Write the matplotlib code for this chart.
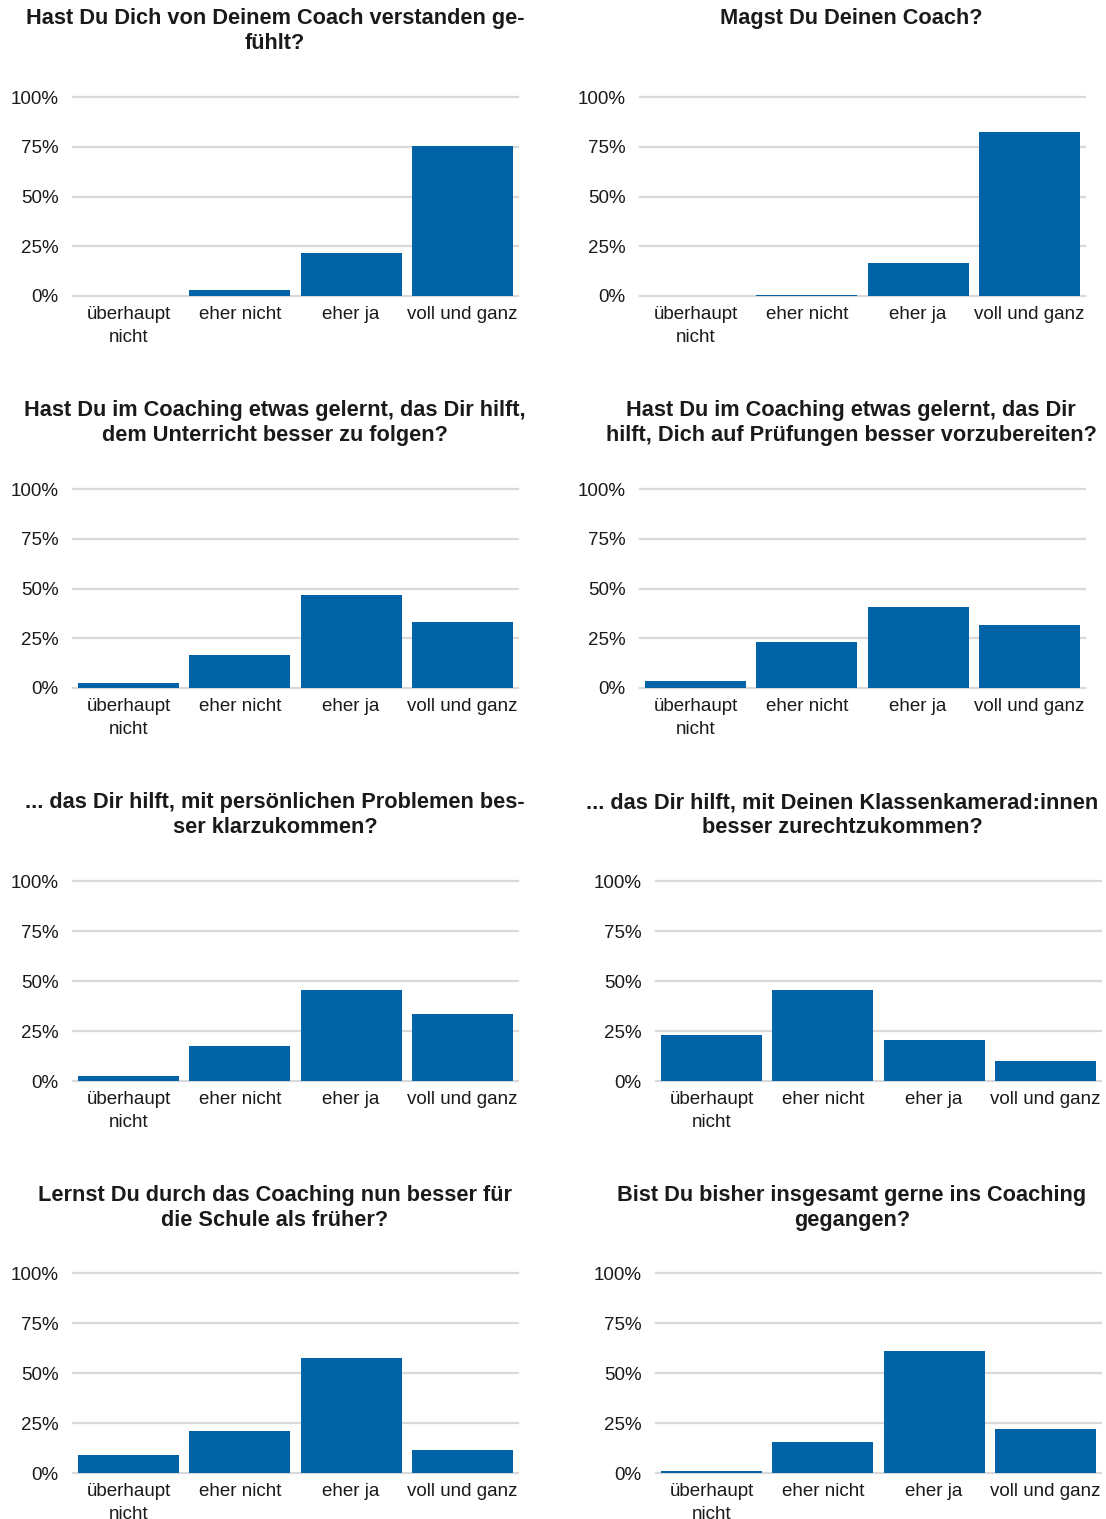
import matplotlib
matplotlib.use("Agg")
import matplotlib.pyplot as plt

plt.rcParams['font.family'] = ['Liberation Sans', 'DejaVu Sans']

categories = ["überhaupt\nnicht", "eher nicht", "eher ja", "voll und ganz"]
yticks = [0, 25, 50, 75, 100]
ytick_labels = ["0%", "25%", "50%", "75%", "100%"]

titles = [
    "Hast Du Dich von Deinem Coach verstanden ge-\nfühlt?",
    "Magst Du Deinen Coach?",
    "Hast Du im Coaching etwas gelernt, das Dir hilft,\ndem Unterricht besser zu folgen?",
    "Hast Du im Coaching etwas gelernt, das Dir\nhilft, Dich auf Prüfungen besser vorzubereiten?",
    "... das Dir hilft, mit persönlichen Problemen bes-\nser klarzukommen?",
    "... das Dir hilft, mit Deinen Klassenkamerad:innen\nbesser zurechtzukommen?",
    "Lernst Du durch das Coaching nun besser für\ndie Schule als früher?",
    "Bist Du bisher insgesamt gerne ins Coaching\ngegangen?",
]

verstanden = [0, 2.8, 21.5, 75.6]
magst_coach = [0, 0.7, 16.7, 82.4]
unterricht = [2.5, 16.8, 46.6, 33.4]
pruefungen = [3.7, 23.1, 40.9, 31.5]
probleme = [2.3, 17.4, 45.5, 33.4]
klassenkameraden = [23.0, 45.5, 20.5, 10.1]
lernen = [9.2, 21.1, 57.4, 11.7]
gerne = [1.0, 15.7, 60.9, 22.1]
series = [verstanden, magst_coach, unterricht, pruefungen,
          probleme, klassenkameraden, lernen, gerne]

W, H = 1106, 1519
fig = plt.figure(figsize=(W / 100, H / 100), dpi=100)

# pixel layout: (left, right) x of plot area per panel, (y100, y0) per row
x_spans = [(73, 518), (640, 1085), (73, 518), (640, 1085),
           (73, 518), (656, 1101), (73, 518), (656, 1101)]
y_rows = [(97, 296), (489, 688), (881, 1081), (1273, 1473)]
title_x = [275, 851, 275, 851, 275, 842, 275, 852]
title_y = [8, 400, 792, 1185]

bar_color = "#0063a6"
grid_color = "#d9d9d9"

for i, (vals, title) in enumerate(zip(series, titles)):
    x0, x1 = x_spans[i]
    y100, y0 = y_rows[i // 2]
    ax = fig.add_axes([x0 / W, 1 - y0 / H, (x1 - x0) / W, (y0 - y100) / H])
    ax.bar(range(len(categories)), vals, width=0.91, color=bar_color, zorder=3)
    ax.set_xlim(-0.5, len(categories) - 0.5)
    ax.set_ylim(0, 100)
    ax.set_yticks(yticks)
    ax.set_yticklabels(ytick_labels)
    ax.set_xticks(range(len(categories)))
    ax.set_xticklabels(categories, linespacing=1.42)
    ax.tick_params(axis='y', length=0, pad=10.5, labelsize=13.5, colors='#1a1a1a')
    ax.tick_params(axis='x', length=0, pad=7.5, labelsize=13.5, colors='#1a1a1a')
    for s in ax.spines.values():
        s.set_visible(False)
    ax.yaxis.grid(True, color=grid_color, linewidth=1.6, zorder=0)
    for gl in ax.get_ygridlines():
        gl.set_clip_on(False)
    ax.set_axisbelow(True)

    fig.text(title_x[i] / W, 1 - title_y[i // 2] / H, title, ha='center', va='top',
             fontsize=15.7, fontweight='bold', color='#1a1a1a', linespacing=1.22)

fig.savefig("out.png", dpi=100)
